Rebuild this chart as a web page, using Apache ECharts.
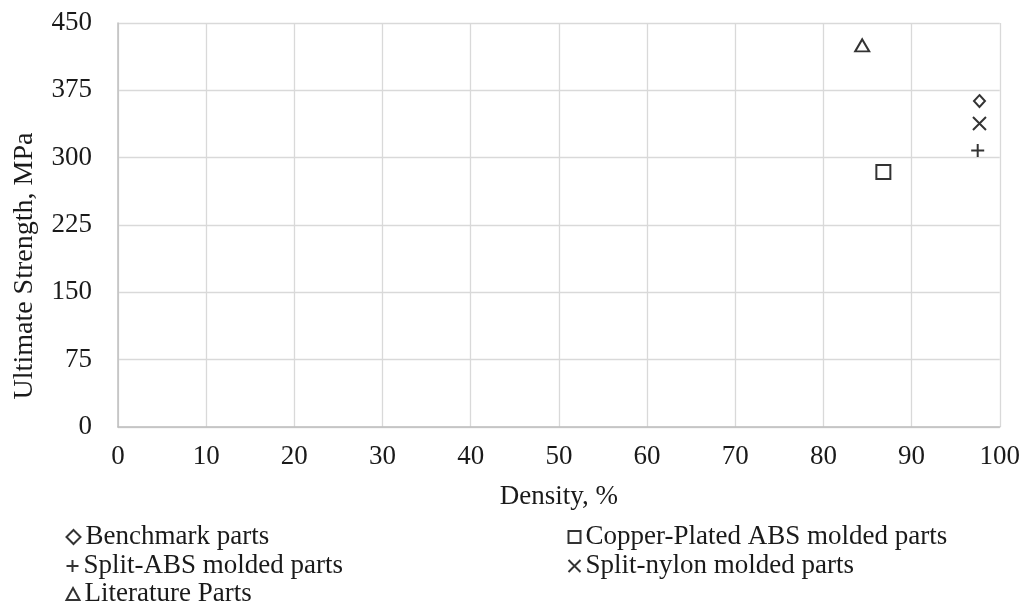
<!DOCTYPE html>
<html><head><meta charset="utf-8">
<script src="https://cdn.jsdelivr.net/npm/echarts@6/dist/echarts.min.js"></script>
<style>html,body{margin:0;padding:0;background:#fff}#c{width:1023px;height:604px}</style>
</head><body><div id="c"></div>
<script>
const seriesNames = ["Benchmark parts","Copper-Plated ABS molded parts","Split-ABS molded parts","Split-nylon molded parts","Literature Parts"];
const benchmark = [[97.7, 363]];
const copperABS = [[86.8, 284]];
const splitABS = [[97.5, 308]];
const splitNylon = [[97.7, 338]];
const literature = [[84.4, 425]];
const xTicks = [0,10,20,30,40,50,60,70,80,90,100];
const yTicks = [0,75,150,225,300,375,450];
const xTitle = 'Density, %';
const yTitle = 'Ultimate Strength, MPa';

const FONT = "Liberation Serif";
const PLUS = 'path://M5,0L5,10M0,5L10,5';
const CROSS = 'path://M0,0L10,10M10,0L0,10';
const symbols = ['diamond','rect',PLUS,CROSS,'triangle'];
const sizes = [[11,12],[14,14],[13,13],[13,13],[14,12]];
const datasets = [benchmark, copperABS, splitABS, splitNylon, literature];
const legendPos = [[64,523],[566,523],[64,552],[566,552],[64,580]];
const legendIcon = [[14,14],[12,12],[12,12],[12,12],[13,12]];

const chart = echarts.init(document.getElementById('c'));
const series = seriesNames.map((n,i)=>({
  name:n, type:'scatter', data:datasets[i], symbol:symbols[i], symbolSize:sizes[i],
  itemStyle:{color:'none', borderColor:'#000', borderWidth:2},
  emphasis:{disabled:true}
}));
const legends = seriesNames.map((n,i)=>({
  data:[{name:n, icon:symbols[i], itemStyle:{color:'none', borderColor:'#000', borderWidth:2}}],
  left:legendPos[i][0], top:legendPos[i][1], itemWidth:legendIcon[i][0], itemHeight:legendIcon[i][1],
  padding:0, selectedMode:false,
  textStyle:{fontFamily:FONT, fontSize:27, lineHeight:28, color:'#1a1a1a'}
}));
chart.setOption({
  animation:false,
  grid:{left:118, right:23, top:23, bottom:177},
  xAxis:{type:'value', min:0, max:100, interval:10,
    name:xTitle, nameLocation:'middle', nameGap:56,
    nameTextStyle:{fontFamily:FONT, fontSize:27, color:'#1a1a1a'},
    axisLine:{lineStyle:{color:'#bfbfbf', width:1.5}}, axisTick:{show:false},
    axisLabel:{fontFamily:FONT, fontSize:27, color:'#1a1a1a', margin:16},
    splitLine:{lineStyle:{color:'#d9d9d9', width:1.3}}},
  yAxis:{type:'value', min:0, max:450, interval:75,
    axisLine:{show:true, lineStyle:{color:'#bfbfbf', width:1.5}}, axisTick:{show:false},
    axisLabel:{fontFamily:FONT, fontSize:27, color:'#1a1a1a', margin:26},
    splitLine:{lineStyle:{color:'#d9d9d9', width:1.3}}},
  graphic:[{type:'text', x:25, y:266, rotation:Math.PI/2,
    style:{text:yTitle, font:'28px "Liberation Serif"', fill:'#1a1a1a', textAlign:'center', textVerticalAlign:'middle'}}],
  legend:legends,
  series:series
});
</script></body></html>
